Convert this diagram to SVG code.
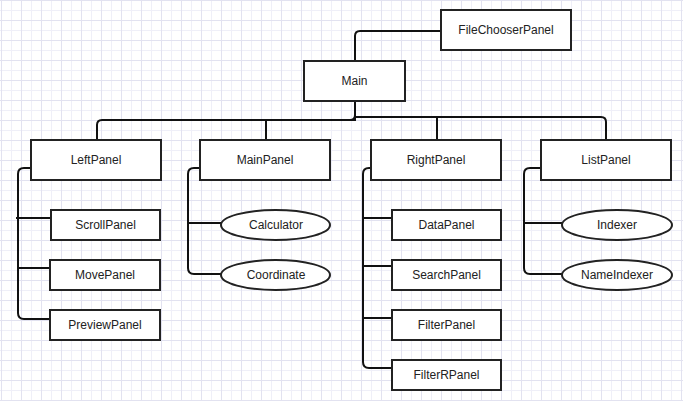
<svg xmlns="http://www.w3.org/2000/svg" width="683" height="401" viewBox="0 0 683 401">
<defs>
<pattern id="grid" width="20" height="20" patternUnits="userSpaceOnUse" x="1" y="0">
<path d="M10.5,0 V20 M0,10.5 H20" stroke="#efeff8" stroke-width="1" fill="none"/>
<path d="M0.5,0 V20 M0,0.5 H20" stroke="#e2e2f0" stroke-width="1" fill="none"/>
</pattern>
<style>
.box{fill:#fff;stroke:#222;stroke-width:2}
.t{font-family:"Liberation Sans",Arial,sans-serif;font-size:12px;fill:#222;text-anchor:middle;dominant-baseline:central}
.c{fill:none;stroke:#111;stroke-width:2}
</style>
</defs>
<rect width="683" height="401" fill="#fff"/>
<rect width="683" height="401" fill="url(#grid)"/>
<g id="connectors">
<path class="c" d="M355,61 V36 Q355,31 360,31 H441"/>
<path class="c" d="M355,101 V115 Q355,120 350,120 H102 Q97,120 97,125 V140"/>
<path class="c" d="M355,101 V120 H266 V140"/>
<path class="c" d="M355,101 V117 H437 V140"/>
<path class="c" d="M355,101 V117 H601 Q606,117 606,122 V140"/>
<path class="c" d="M31,168 H24 Q18,168 18,174 V313 Q18,319 24,319 H51"/>
<path class="c" d="M16,218 H51 M18,268 H51"/>
<path class="c" d="M200,168 H194 Q188,168 188,174 V268 Q188,274 194,274 H221"/>
<path class="c" d="M188,223 H221"/>
<path class="c" d="M371,168 H369 Q363,168 363,174 V362 Q363,368 369,368 H392"/>
<path class="c" d="M363,218 H392 M363,266 H392 M362,318 H392"/>
<path class="c" d="M541,168 H530 Q524,168 524,174 V268 Q524,274 530,274 H562"/>
<path class="c" d="M524,223 H562"/>
</g>
<g id="FileChooserPanel"><rect class="box" x="441" y="10" width="130" height="40"/><text class="t" x="506" y="30">FileChooserPanel</text></g>
<g id="Main"><rect class="box" x="304" y="61" width="101" height="40"/><text class="t" x="354.5" y="81">Main</text></g>
<g id="LeftPanel"><rect class="box" x="31" y="140" width="130" height="40"/><text class="t" x="96" y="160">LeftPanel</text></g>
<g id="MainPanel"><rect class="box" x="200" y="140" width="130" height="40"/><text class="t" x="265" y="160">MainPanel</text></g>
<g id="RightPanel"><rect class="box" x="371" y="140" width="130" height="40"/><text class="t" x="436" y="160">RightPanel</text></g>
<g id="ListPanel"><rect class="box" x="541" y="140" width="130" height="40"/><text class="t" x="606" y="160">ListPanel</text></g>
<g id="ScrollPanel"><rect class="box" x="51" y="210" width="109" height="30"/><text class="t" x="105.5" y="225">ScrollPanel</text></g>
<g id="MovePanel"><rect class="box" x="50" y="260" width="110" height="30"/><text class="t" x="105" y="275">MovePanel</text></g>
<g id="PreviewPanel"><rect class="box" x="50" y="310" width="110" height="30"/><text class="t" x="105" y="325">PreviewPanel</text></g>
<g id="Calculator"><ellipse class="box" cx="275.5" cy="225" rx="54.5" ry="15"/><text class="t" x="276" y="225">Calculator</text></g>
<g id="Coordinate"><ellipse class="box" cx="275.5" cy="275" rx="54.5" ry="15"/><text class="t" x="276" y="275">Coordinate</text></g>
<g id="DataPanel"><rect class="box" x="392" y="210" width="109" height="30"/><text class="t" x="446.5" y="225">DataPanel</text></g>
<g id="SearchPanel"><rect class="box" x="392" y="260" width="109" height="30"/><text class="t" x="446.5" y="275">SearchPanel</text></g>
<g id="FilterPanel"><rect class="box" x="392" y="310" width="109" height="30"/><text class="t" x="446.5" y="325">FilterPanel</text></g>
<g id="FilterRPanel"><rect class="box" x="392" y="360" width="109" height="30"/><text class="t" x="446.5" y="375">FilterRPanel</text></g>
<g id="Indexer"><ellipse class="box" cx="617" cy="225" rx="55" ry="15"/><text class="t" x="617" y="225">Indexer</text></g>
<g id="NameIndexer"><ellipse class="box" cx="617" cy="275" rx="55" ry="15"/><text class="t" x="617" y="275">NameIndexer</text></g>
</svg>
